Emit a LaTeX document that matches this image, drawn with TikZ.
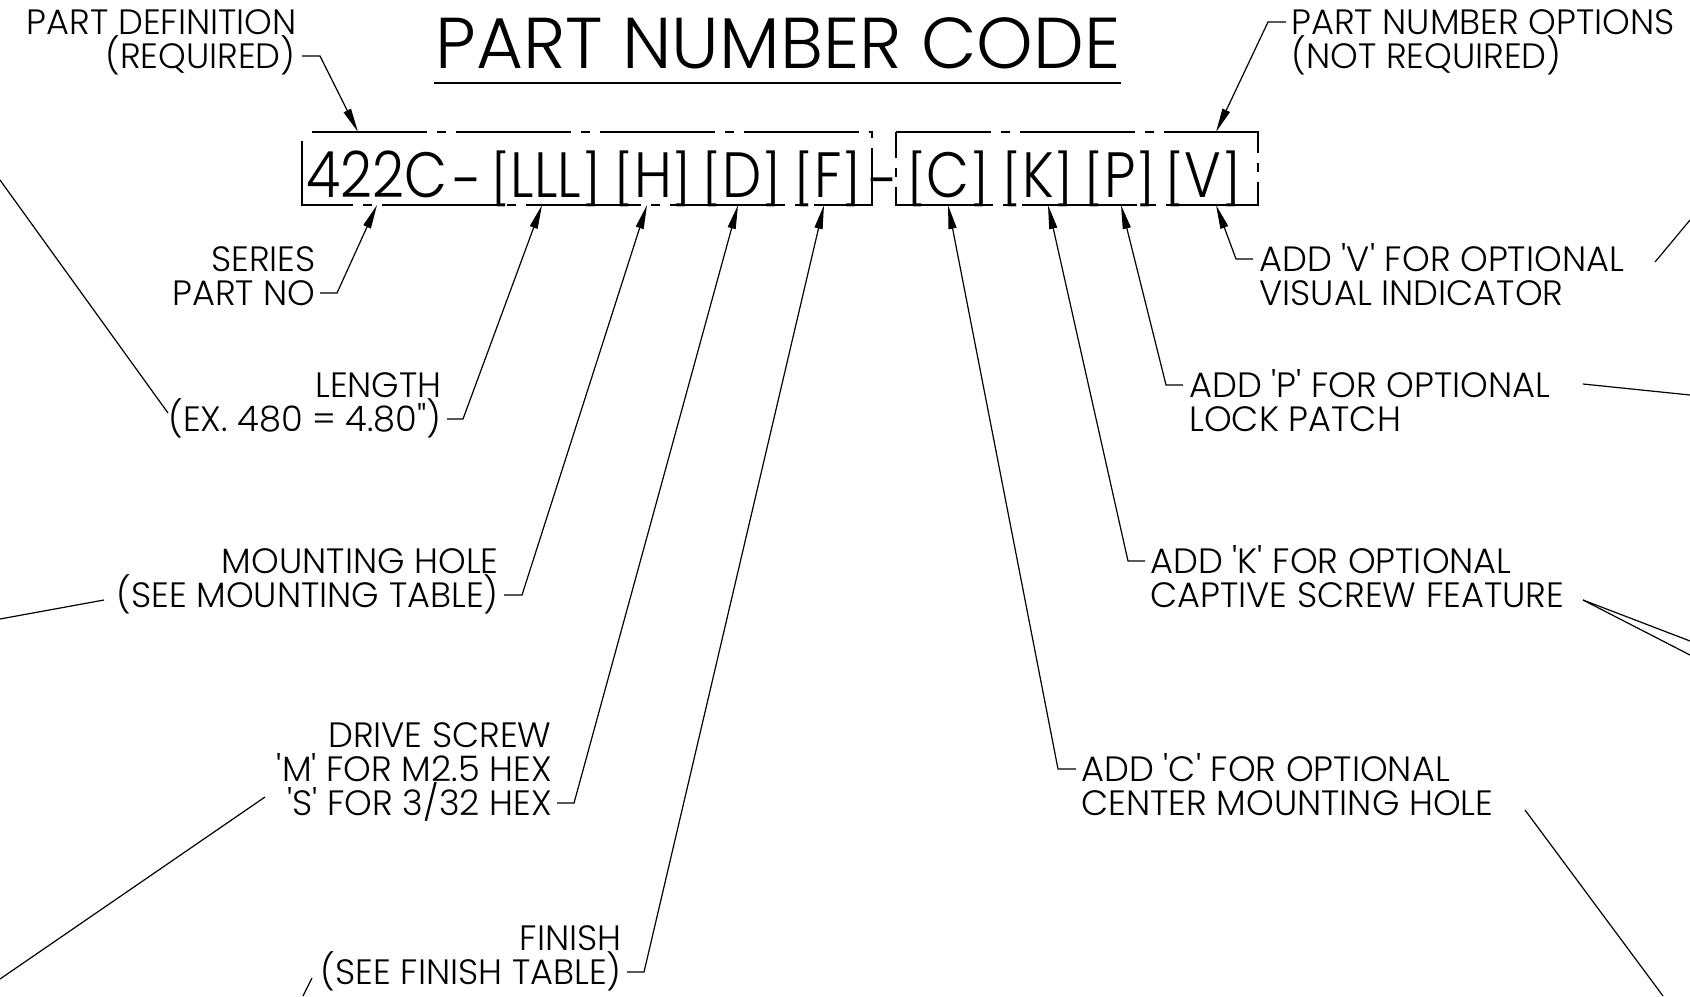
\documentclass[tikz,border=0pt]{standalone}
\usepackage{fontspec}
\usepackage{graphicx}
\setmainfont{Poppins}[UprightFont={* Light}, Ligatures=TeXOff]
\newfontfamily\codefont{Poppins}[UprightFont={* Light}, FakeStretch=0.87, Ligatures=TeXOff]
\newcommand{\sbr}[1]{\scalebox{1}[0.78]{[}#1\scalebox{1}[0.78]{]}}
\usetikzlibrary{arrows.meta}
\begin{document}
\begin{tikzpicture}[x=0.5pt,y=-0.5pt,
  lbl/.style={font=\fontsize{17.6}{17.6}\selectfont, inner sep=0pt},
  lr/.style={lbl, anchor=base east},
  ll/.style={lbl, anchor=base west},
  code/.style={font=\codefont\fontsize{32}{32}\selectfont, inner sep=0pt, anchor=base},
  thin/.style={line width=0.6pt},
  arr/.style={thin, -{Triangle[length=12pt,width=4pt]}},
  cbox/.style={line width=0.6pt, dash pattern=on 57.5pt off 5pt on 4.5pt off 5pt}
]
\useasboundingbox (0,0) rectangle (1690,996);

% title
\node[font=\fontsize{36}{36}\selectfont, inner sep=0pt, anchor=base] (title) at (778,68) {PART NUMBER CODE};
\coordinate (ulA) at (434,83);
\coordinate (ulB) at (1121,83);
\draw[thin] (ulA) -- (ulB);

% code boxes
\coordinate (b1a) at (302,132); \coordinate (b1b) at (872,132);
\coordinate (b1c) at (872,205); \coordinate (b1d) at (302,205);
\coordinate (b2a) at (896,132); \coordinate (b2b) at (1258,132);
\coordinate (b2c) at (1258,205); \coordinate (b2d) at (896,205);
\draw[cbox, dash phase=67pt] (b1a) -- (b1b) -- (b1c) -- (b1d) -- cycle;
\draw[cbox, dash phase=10pt] (b2a) -- (b2b) -- (b2c) -- (b2d) -- cycle;

% code tokens
\node[code] (t422) at (377,197) {422C};
\node[code] (td1)  at (468,203) {-};
\node[code] (tL)   at (546,197) {\sbr{LLL}};
\node[code] (tH)   at (653,197) {\sbr{H}};
\node[code] (tD)   at (742,197) {\sbr{D}};
\node[code] (tF)   at (828,197) {\sbr{F}};
\node[code] (td2)  at (884,203) {-};
\node[code] (tC)   at (948,197) {\sbr{C}};
\node[code] (tK)   at (1038,197) {\sbr{K}};
\node[code] (tP)   at (1120,197) {\sbr{P}};
\node[code] (tV)   at (1203,197) {\sbr{V}};

% labels left
\node[lr] (pd1) at (297,34) {PART DEFINITION};
\node[lr] (pd2) at (296,68) {(REQUIRED)};
\node[lr] (se1) at (316,271) {SERIES};
\node[lr] (se2) at (316,305) {PART NO};
\node[lr] (le1) at (442,397) {LENGTH};
\node[lr] (le2) at (442,431) {(EX. 480 = 4.80")};
\node[lr] (mh1) at (499,573) {MOUNTING HOLE};
\node[lr] (mh2) at (499,607) {(SEE MOUNTING TABLE)};
\node[lr] (ds1) at (552,747) {DRIVE SCREW};
\node[lr] (ds2) at (552,781) {'M' FOR M2.5 HEX};
\node[lr] (ds3) at (552,815) {'S' FOR 3/32 HEX};
\node[lr] (fi1) at (622,950) {FINISH};
\node[lr] (fi2) at (622,984) {(SEE FINISH TABLE)};

% labels right
\node[ll] (po1) at (1291,34) {PART NUMBER OPTIONS};
\node[ll] (po2) at (1291,68) {(NOT REQUIRED)};
\node[ll] (ov1) at (1259,271) {ADD 'V' FOR OPTIONAL};
\node[ll] (ov2) at (1259,305) {VISUAL INDICATOR};
\node[ll] (op1) at (1189,397) {ADD 'P' FOR OPTIONAL};
\node[ll] (op2) at (1189,431) {LOCK PATCH};
\node[ll] (ok1) at (1150,573) {ADD 'K' FOR OPTIONAL};
\node[ll] (ok2) at (1150,607) {CAPTIVE SCREW FEATURE};
\node[ll] (oc1) at (1081,781) {ADD 'C' FOR OPTIONAL};
\node[ll] (oc2) at (1081,815) {CENTER MOUNTING HOLE};

% leader coordinates
\coordinate (pdS) at (302,56);  \coordinate (pdK) at (320,56);  \coordinate (pdT) at (358,132);
\coordinate (poS) at (1286,22); \coordinate (poK) at (1268,22); \coordinate (poT) at (1216,132);
\coordinate (seS) at (320,293); \coordinate (seK) at (337,293); \coordinate (seT) at (377,205);
\coordinate (leS) at (447,419); \coordinate (leK) at (463,419); \coordinate (leT) at (542,205);
\coordinate (mhS) at (504,595); \coordinate (mhK) at (522,595); \coordinate (mhT) at (647,205);
\coordinate (dsS) at (557,803); \coordinate (dsK) at (574,803); \coordinate (dsT) at (738,205);
\coordinate (fiS) at (627,972); \coordinate (fiK) at (644,972); \coordinate (fiT) at (824,205);
\coordinate (ovS) at (1253,259); \coordinate (ovK) at (1236,259); \coordinate (ovT) at (1216,205);
\coordinate (opS) at (1183,385); \coordinate (opK) at (1166,385); \coordinate (opT) at (1121,205);
\coordinate (okS) at (1145,561); \coordinate (okK) at (1128,561); \coordinate (okT) at (1048,205);
\coordinate (ocS) at (1076,769); \coordinate (ocK) at (1058,769); \coordinate (ocT) at (948,205);

\draw[arr] (pdS) -- (pdK) -- (pdT);
\draw[arr] (poS) -- (poK) -- (poT);
\draw[arr] (seS) -- (seK) -- (seT);
\draw[arr] (leS) -- (leK) -- (leT);
\draw[arr] (mhS) -- (mhK) -- (mhT);
\draw[arr] (dsS) -- (dsK) -- (dsT);
\draw[arr] (fiS) -- (fiK) -- (fiT);
\draw[arr] (ovS) -- (ovK) -- (ovT);
\draw[arr] (opS) -- (opK) -- (opT);
\draw[arr] (okS) -- (okK) -- (okT);
\draw[arr] (ocS) -- (ocK) -- (ocT);

% lines running off the picture
\coordinate (x1a) at (0,180);    \coordinate (x1b) at (168,413);
\coordinate (x2a) at (0,619);    \coordinate (x2b) at (104,600);
\coordinate (x3a) at (265,797);  \coordinate (x3b) at (0,979);
\coordinate (x4a) at (312,978);  \coordinate (x4b) at (303,996);
\coordinate (x5a) at (1655,262); \coordinate (x5b) at (1690,220);
\coordinate (x6a) at (1583,384); \coordinate (x6b) at (1690,395);
\coordinate (x7a) at (1583,600); \coordinate (x7b) at (1690,641); \coordinate (x7c) at (1690,655);
\coordinate (x8a) at (1525,810); \coordinate (x8b) at (1663,996);
\draw[thin] (x1a) -- (x1b);
\draw[thin] (x2a) -- (x2b);
\draw[thin] (x3a) -- (x3b);
\draw[thin] (x4a) -- (x4b);
\draw[thin] (x5a) -- (x5b);
\draw[thin] (x6a) -- (x6b);
\draw[thin] (x7a) -- (x7b);
\draw[thin] (x7a) -- (x7c);
\draw[thin] (x8a) -- (x8b);
\end{tikzpicture}
\end{document}
